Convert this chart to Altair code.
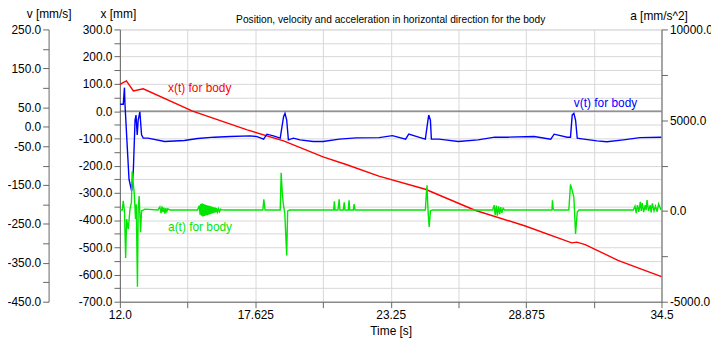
import altair as alt
import pandas as pd

FONT = "Liberation Sans"

# ---- axis ticks ----
time_ticks = [12.0, 14.8125, 17.625, 20.4375, 23.25, 26.0625, 28.875, 31.6875, 34.5]
x_ticks = list(range(-700, 301, 50))
v_ticks = list(range(-450, 251, 50))
v_labelled = [250, 150, 50, 0, -50, -150, -250, -350, -450]
a_ticks = [-5000, -2500, 0, 2500, 5000, 7500, 10000]

# ---- x(t) position [mm] ----
x_time = [12.00, 12.27, 12.56, 12.97, 15.02, 17.29, 18.80, 20.44, 21.40, 22.76,
          24.69, 26.75, 28.81, 30.77, 30.98, 31.33, 32.69, 34.50]
x_vals = [98, 111, 74, 82, 0, -69, -109, -168, -196, -239,
          -287, -364, -421, -484, -481, -490, -548, -608]

# ---- v(t) velocity [mm/s] ----
v_time = [12.01, 12.14, 12.19, 12.21, 12.32, 12.38, 12.49, 12.56, 12.63, 12.67,
          12.72, 12.76, 12.83, 12.90, 12.97, 13.17, 13.86, 14.68, 15.23, 15.92,
          16.59, 17.41, 17.70, 17.97, 18.11, 18.38, 18.66, 18.80, 18.86, 18.93,
          19.00, 19.21, 19.48, 20.03, 20.44, 21.12, 21.81, 22.77, 23.32, 23.87,
          24.00, 24.41, 24.69, 24.78, 24.83, 24.90, 24.94, 25.24, 25.51, 26.06,
          26.88, 27.57, 28.12, 29.21, 29.90, 30.04, 30.58, 30.72, 30.79, 30.86,
          30.93, 31.00, 31.27, 31.82, 32.23, 32.92, 33.60, 34.49]
v_vals = [57.8, 57.8, 100.3, 59.6, -67.7, -135.6, -165.4, -110.2, 17.1, 29.8,
          -21.1, 17.1, 38.2, -21.1, -29.5, -29.5, -38.2, -35.6, -30.5, -27.0,
          -25.4, -23.6, -25.4, -32.0, -19.3, -23.6, -29.5, 25.5, 34.1, 17.1,
          -33.8, -29.5, -33.8, -38.2, -38.2, -32.0, -28.7, -28.0, -22.9, -32.0,
          -19.3, -27.0, -32.0, 8.7, 29.8, 17.1, -32.0, -32.0, -33.8, -38.2,
          -33.8, -27.0, -27.0, -25.4, -32.0, -19.3, -27.0, -27.0, 29.8, 34.1,
          17.1, -29.5, -32.0, -36.4, -38.9, -33.8, -28.0, -27.0]

# ---- a(t) acceleration [mm/s^2] ----
a_time = [12.01, 12.10, 12.14, 12.19, 12.24, 12.28, 12.32, 12.35, 12.42, 12.48,
          12.51, 12.56, 12.60, 12.65, 12.68, 12.73, 12.76, 12.80, 12.86, 12.90,
          13.04, 13.58, 13.66, 13.71, 13.75, 13.79, 13.83, 13.87, 13.91, 13.95,
          13.99, 14.08,
          15.23, 15.30, 15.33, 15.36, 15.39, 15.42, 15.45, 15.48, 15.51, 15.54,
          15.57, 15.60, 15.63, 15.66, 15.69, 15.72, 15.75, 15.78, 15.81, 15.84,
          15.87, 15.90, 15.93, 15.96, 15.99, 16.02, 16.06, 16.10, 16.14, 16.18,
          16.24, 16.38,
          17.94, 17.98, 18.03, 18.66, 18.70, 18.75, 18.79, 18.85, 18.93, 18.97,
          19.05, 20.78, 20.88, 20.91, 20.94, 21.06, 21.11, 21.14, 21.28, 21.32,
          21.35, 21.49, 21.52, 21.55, 21.70, 21.73, 21.77, 21.85,
          24.69, 24.73, 24.76, 24.78, 24.81, 24.85, 24.90, 24.98,
          27.49, 27.55, 27.59, 27.64, 27.68, 27.73, 27.78, 27.82, 27.87, 27.92,
          27.98, 29.87, 29.95, 29.97, 30.00, 30.04,
          30.65, 30.72, 30.78, 30.86, 30.93, 31.00, 31.07,
          33.33, 33.40, 33.45, 33.50, 33.56, 33.62, 33.66, 33.70, 33.76, 33.82,
          33.86, 33.90, 33.96, 34.03, 34.07, 34.12, 34.19, 34.25, 34.32, 34.38,
          34.48]
a_vals = [50, 50, 553, 0, -2589, -450, -811, -991, 100, 465,
          2189, 1464, 918, -445, 373, -4171, 100, 825, -1171, 7,
          100, 50, 220, -120, 250, -60, 180, -150, 160, -40,
          120, 50,
          50, 300, -200, 380, -260, 420, -300, 380, -280, 350,
          -250, 330, -230, 300, -200, 280, -180, 250, -150, 230,
          -120, 200, -100, 180, -80, 150, -60, 120, -40, 100,
          60, 50,
          50, 645, 50, 50, 2102, 918, 373, -118, -2447, 0,
          50, 50, 50, 536, 50, 50, 645, 50, 50, 482,
          50, 50, 591, 50, 50, 373, 50, 50,
          50, 918, 1409, 645, -173, -882, 0, 50,
          50, 318, -227, 300, -260, 250, -173, 209, -100, 150,
          50, 50, 50, 591, 120, 50,
          50, 1464, 1191, 755, -1264, -64, 50,
          50, 264, -118, 318, -50, 500, 0, 427, -60, 318,
          46, 600, 0, 318, -80, 420, 0, 264, -40, 380,
          50]

# ---- in-plot series labels ----
lab_text = ["x(t) for body", "v(t) for body", "a(t) for body"]
lab_time = [14.0, 30.86, 14.0]
lab_vals = [83.6, 60.4, -882]

RED, BLUE, GREEN = "#ff0000", "#0000ff", "#00e600"
GRID = "#d8d8d8"
AX = "#666666"

x_df = pd.DataFrame({"t": x_time, "val": x_vals})
v_df = pd.DataFrame({"t": v_time, "val": v_vals})
a_df = pd.DataFrame({"t": a_time, "val": a_vals})
zero_df = pd.DataFrame({"val": [0]})

axis_common = dict(labelFont=FONT, titleFont=FONT, labelFontSize=12, titleFontSize=12,
                   titleFontWeight="normal", labelColor="#000", titleColor="#000",
                   domainColor=AX, tickColor=AX, tickSize=6, labelPadding=2)

time_label_expr = ("datum.value == 12 ? '12.0' : datum.value == 17.625 ? '17.625' : "
                   "datum.value == 23.25 ? '23.25' : datum.value == 28.875 ? '28.875' : "
                   "datum.value == 34.5 ? '34.5' : ''")

x_enc = alt.X("t:Q", scale=alt.Scale(domain=[12, 34.5], nice=False, zero=False),
              axis=alt.Axis(values=time_ticks, labelExpr=time_label_expr, title="Time [s]",
                            grid=True, gridColor=GRID, titlePadding=5, labelFlush=False,
                            labelOverlap=False, **axis_common))

x_scale = alt.Scale(domain=[-700, 300], nice=False, zero=False)
v_scale = alt.Scale(domain=[-450, 250], nice=False, zero=False)
a_scale = alt.Scale(domain=[-5000, 10000], nice=False, zero=False)

zero_rule = alt.Chart(zero_df).mark_rule(color="#555555", strokeWidth=1).encode(
    y=alt.Y("val:Q", scale=x_scale, axis=None))

red = alt.Chart(x_df).mark_line(color=RED, strokeWidth=1.4).encode(
    x=x_enc,
    y=alt.Y("val:Q", scale=x_scale,
            axis=alt.Axis(orient="left", values=x_ticks,
                          labelExpr="datum.value % 100 == 0 ? toString(datum.value) + '.0' : ''",
                          title="x [mm]", titleAngle=0, titleX=-2, titleY=-12,
                          titleAlign="center", titleBaseline="alphabetic",
                          grid=True, gridColor=GRID, labelOverlap=False, labelFlush=False,
                          **axis_common)))

blue = alt.Chart(v_df).mark_line(color=BLUE, strokeWidth=1.4).encode(
    x=x_enc,
    y=alt.Y("val:Q", scale=v_scale,
            axis=alt.Axis(orient="left", offset=72, values=v_ticks,
                          labelExpr="indexof(" + str(v_labelled) + ", datum.value) >= 0 ? toString(datum.value) + '.0' : ''",
                          title="v [mm/s]", titleAngle=0, titleX=0, titleY=-12,
                          titleAlign="center", titleBaseline="alphabetic",
                          grid=False, labelOverlap=False, labelFlush=False,
                          **axis_common)))

green = alt.Chart(a_df).mark_line(color=GREEN, strokeWidth=1.4).encode(
    x=x_enc,
    y=alt.Y("val:Q", scale=a_scale,
            axis=alt.Axis(orient="right", values=a_ticks,
                          labelExpr="datum.value % 5000 == 0 ? toString(datum.value) + '.0' : ''",
                          title="a [mm/s^2]", titleAngle=0, titleX=-3, titleY=-10,
                          titleAlign="center", titleBaseline="alphabetic",
                          grid=False, labelOverlap=False, labelFlush=False,
                          **axis_common)))

def label_layer(i, scale, color):
    df = pd.DataFrame({"t": [lab_time[i]], "val": [lab_vals[i]], "txt": [lab_text[i]]})
    return alt.Chart(df).mark_text(align="left", baseline="middle", font=FONT,
                                   fontSize=12, color=color).encode(
        x=x_enc, y=alt.Y("val:Q", scale=scale, axis=None), text="txt:N")

chart = alt.layer(
    zero_rule, red, blue, green,
    label_layer(0, x_scale, RED), label_layer(1, v_scale, BLUE), label_layer(2, a_scale, GREEN),
).resolve_scale(y="independent").properties(
    width=547, height=275,
    autosize=alt.AutoSizeParams(type="none"),
    padding={"left": 113, "top": 20, "right": 50, "bottom": 36},
    title=alt.TitleParams(text="Position, velocity and acceleration in horizontal direction for the body",
                          font=FONT, fontSize=10.3, fontWeight="normal", color="#000",
                          anchor="middle", offset=6, dy=24),
).configure_view(stroke=None).configure(background="white")

chart.save("out.html", embed_options={"renderer": "svg", "actions": False})
